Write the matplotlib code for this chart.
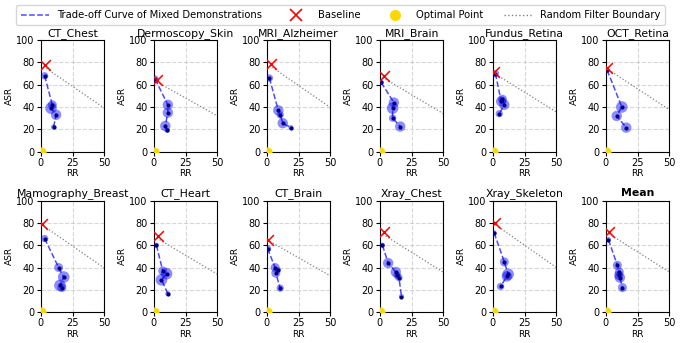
import matplotlib.pyplot as plt
import numpy as np

names = ["CT_Chest", "Dermoscopy_Skin", "MRI_Alzheimer", "MRI_Brain", "Fundus_Retina", "OCT_Retina",
         "Mamography_Breast", "CT_Heart", "CT_Brain", "Xray_Chest", "Xray_Skeleton", "Mean"]

# baseline (RR, ASR)
base_rr = [3, 2.5, 3, 3.5, 0.5, 1, 1, 3, 1, 3.5, 1.5, 2.5]
base_asr = [78, 64, 79, 68, 71, 75, 79, 68, 65, 71.5, 80, 72]

# trade-off curve points
rr_list = [
    [3, 9, 8, 12, 10],
    [1, 11, 11, 9, 10.5],
    [2, 9, 10.5, 12.5, 19],
    [1, 11, 10, 10, 16],
    [2, 6.5, 7.5, 9, 5],
    [1, 12.5, 8.5, 16],
    [3, 14, 18, 15, 16.5],
    [2, 7, 10, 6, 11],
    [0.5, 6.5, 9, 7, 10.5],
    [2, 6.5, 12.5, 13.5, 15, 17],
    [1, 9, 12, 11, 6],
    [2, 9, 10.5, 10, 11, 13],
]
asr_list = [
    [68, 42, 39, 33, 22],
    [65, 42, 35, 23, 19],
    [66, 37, 33, 25.5, 21.5],
    [62, 44, 39, 30, 22.5],
    [70, 45, 47, 42, 34],
    [73, 40, 32, 21.5],
    [66, 40, 31.5, 24, 22],
    [60, 37, 34.5, 29, 16.5],
    [57, 40, 38, 35, 21.5],
    [60, 44, 36, 33, 31, 14],
    [71, 45, 34, 32, 23],
    [65, 42, 36, 33, 31, 22],
]
weights = [
    [2, 3, 5, 4, 1],
    [2, 4, 4, 4, 1],
    [2, 4, 2, 4, 1],
    [1, 4, 5, 2, 4],
    [2, 4, 3, 4, 2],
    [1, 5, 4, 4],
    [2, 3, 5, 5, 3],
    [1, 3, 5, 5, 1],
    [2, 3, 1, 3, 2],
    [1, 4, 4, 2, 2, 1],
    [1, 3, 5, 4, 2],
    [1, 3, 3, 3, 4, 3],
]

fig, axs = plt.subplots(2, 6, figsize=(6.81, 3.43), dpi=100)
fig.subplots_adjust(left=0.06, right=0.983, top=0.883, bottom=0.09, wspace=0.78, hspace=0.44)

for i, ax in enumerate(axs.flat):
    x = np.array(rr_list[i])
    y = np.array(asr_list[i])
    w = np.array(weights[i])
    ax.plot(x, y, "--", color="blue", alpha=0.7, lw=1.1, zorder=2)
    ax.scatter(x, y, s=w * 14, color="blue", alpha=0.45, edgecolors="none", zorder=3)
    ax.scatter(x, y, s=4, color="navy", zorder=4)
    ax.plot([0, 100], [base_asr[i], 0], ":", color="gray", lw=0.9, zorder=1)
    ax.scatter(base_rr[i], base_asr[i], marker="x", s=60, color="red", lw=1.1, zorder=5)
    ax.scatter(0, 0, s=40, color="gold", zorder=5)
    ax.set_xlim(0, 50)
    ax.set_ylim(0, 100)
    ax.set_xticks([0, 25, 50])
    ax.set_yticks([0, 20, 40, 60, 80, 100])
    ax.tick_params(labelsize=7, length=3, pad=1.5)
    ax.grid(True, linestyle="--", alpha=0.5)
    if names[i] == "Mean":
        ax.set_title(names[i], fontsize=7.8, fontweight="bold", pad=3)
    else:
        ax.set_title(names[i], fontsize=7.8, pad=3)
    ax.set_ylabel("ASR", fontsize=6.5, labelpad=2)
    ax.set_xlabel("RR", fontsize=6.5, labelpad=1)

handles = [
    plt.Line2D([], [], ls="--", color="blue", alpha=0.7, lw=1.1),
    plt.Line2D([], [], ls="none", marker="x", color="red", ms=8, mew=1.2),
    plt.Line2D([], [], ls="none", marker="o", color="gold", ms=7),
    plt.Line2D([], [], ls=":", color="gray", lw=1),
]
labels = ["Trade-off Curve of Mixed Demonstrations", "Baseline", "Optimal Point", "Random Filter Boundary"]
fig.legend(handles, labels, loc="upper center", bbox_to_anchor=(0.5, 1.0), ncol=4, fontsize=7.2,
           handlelength=2.8, columnspacing=2.0, borderpad=0.5, frameon=True)

fig.savefig("out.png", dpi=100)
